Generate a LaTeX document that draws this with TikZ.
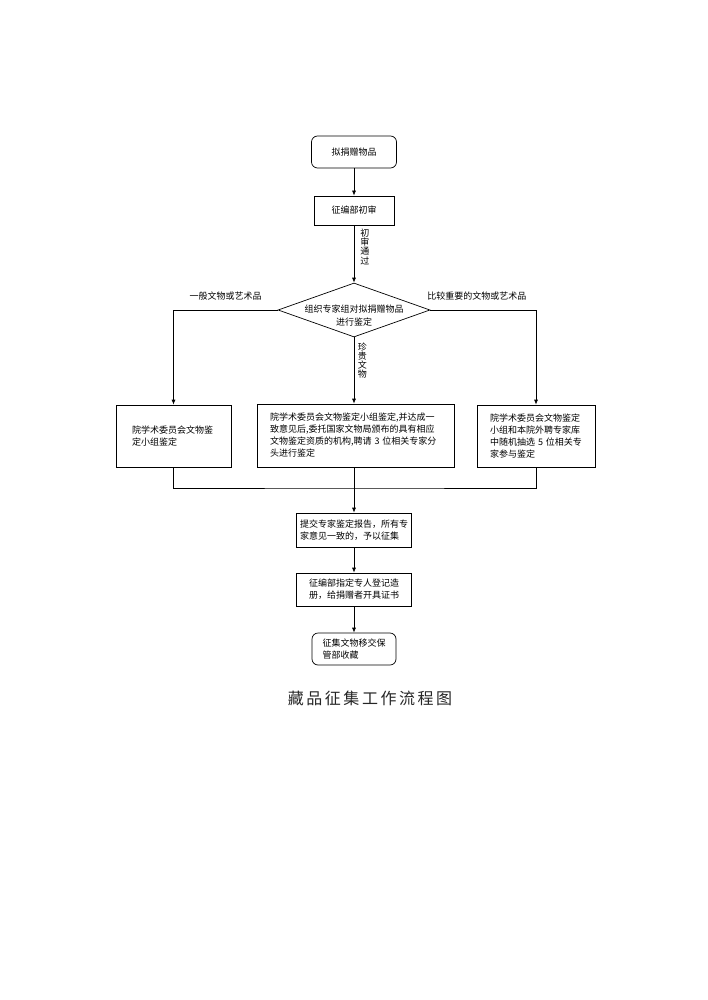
\documentclass[tikz,border=0pt]{standalone}
\usepackage{fontspec}
\setmainfont{Noto Sans CJK SC}
\newfontfamily\titlefont[LetterSpace=16]{Noto Sans CJK SC}
\usetikzlibrary{arrows.meta,shapes.geometric}
\begin{document}
\begin{tikzpicture}[x=1pt,y=-1pt,
  every node/.style={font=\fontsize{9}{12}\selectfont},
  box/.style={draw, line width=0.7pt, rectangle, inner sep=0pt, align=left},
  rbox/.style={box, rounded corners=6pt},
  arr/.style={draw, line width=0.7pt, -{Latex[length=5pt,width=4pt]}},
  ln/.style={draw, line width=0.7pt},
  vlabel/.style={inner sep=0pt, align=center, font=\fontsize{9}{9.3}\selectfont},
  hlabel/.style={inner sep=0pt, anchor=south, yshift=9pt},
  titlestyle/.style={inner sep=0pt, text=black!85, font=\titlefont\fontsize{16}{16}\selectfont}]
\useasboundingbox (0,0) rectangle (707,1000);
\fill[white] (0,0) rectangle (707,1000);

\node[rbox, minimum width=85pt, minimum height=32pt, align=center] (n1) at (354,152) {拟捐赠物品};
\node[box, minimum width=80pt, minimum height=29pt, align=center] (n2) at (354,210.5) {征编部初审};
\node[draw, line width=0.7pt, diamond, minimum width=152pt, minimum height=54pt, inner sep=0pt,
  label={[align=center, inner sep=0pt, yshift=-6pt, font=\fontsize{9}{13}\selectfont]center:组织专家组对拟捐赠物品\\进行鉴定}] (dia) at (354,310) {};

\node[box, minimum width=115pt, minimum height=62pt, text width=83pt] (lb) at (173.5,436) {院学术委员会文物鉴\\定小组鉴定};
\node[box, minimum width=197pt, minimum height=63pt, text width=171pt] (mb) at (355.5,435.5) {院学术委员会文物鉴定小组鉴定,并达成一\\致意见后,委托国家文物局颁布的具有相应\\文物鉴定资质的机构,聘请 3 位相关专家分\\头进行鉴定};
\node[box, minimum width=118pt, minimum height=62pt, text width=92pt] (rb) at (536,436) {院学术委员会文物鉴定\\小组和本院外聘专家库\\中随机抽选 5 位相关专\\家参与鉴定};

\node[box, minimum width=115pt, minimum height=34pt, text width=108pt] (tj) at (354,530) {提交专家鉴定报告，所有专\\家意见一致的，予以征集};
\node[box, minimum width=115pt, minimum height=33pt, text width=90pt] (zb) at (354,589.5) {征编部指定专人登记造\\册，给捐赠者开具证书};
\node[rbox, minimum width=84pt, minimum height=32pt, text width=63pt] (fin) at (354,649) {征集文物移交保\\管部收藏};

\node[titlestyle] (title) at (370,698) {藏品征集工作流程图};

\coordinate (mj) at (354,488);

\draw[arr] (n1) -- (n2);
\draw[arr] (n2) -- node[vlabel, anchor=west, pos=0.37, xshift=6pt] {初\\审\\通\\过} (dia.north);
\draw[arr] (dia.west) -| node[hlabel, pos=0.25] {一般文物或艺术品} (lb.north);
\draw[arr] (dia.east) -| node[hlabel, pos=0.22] {比较重要的文物或艺术品} (rb.north);
\draw[arr] (dia.south) -- node[vlabel, anchor=west, pos=0.35, xshift=3.5pt] {珍\\贵\\文\\物} (dia.south |- mb.north);
\draw[ln] (lb.south) |- (mj) -| (rb.south);
\draw[arr] (dia.south |- mb.south) -- (tj.north);
\draw[arr] (tj) -- (zb);
\draw[arr] (zb) -- (fin);
\end{tikzpicture}
\end{document}
